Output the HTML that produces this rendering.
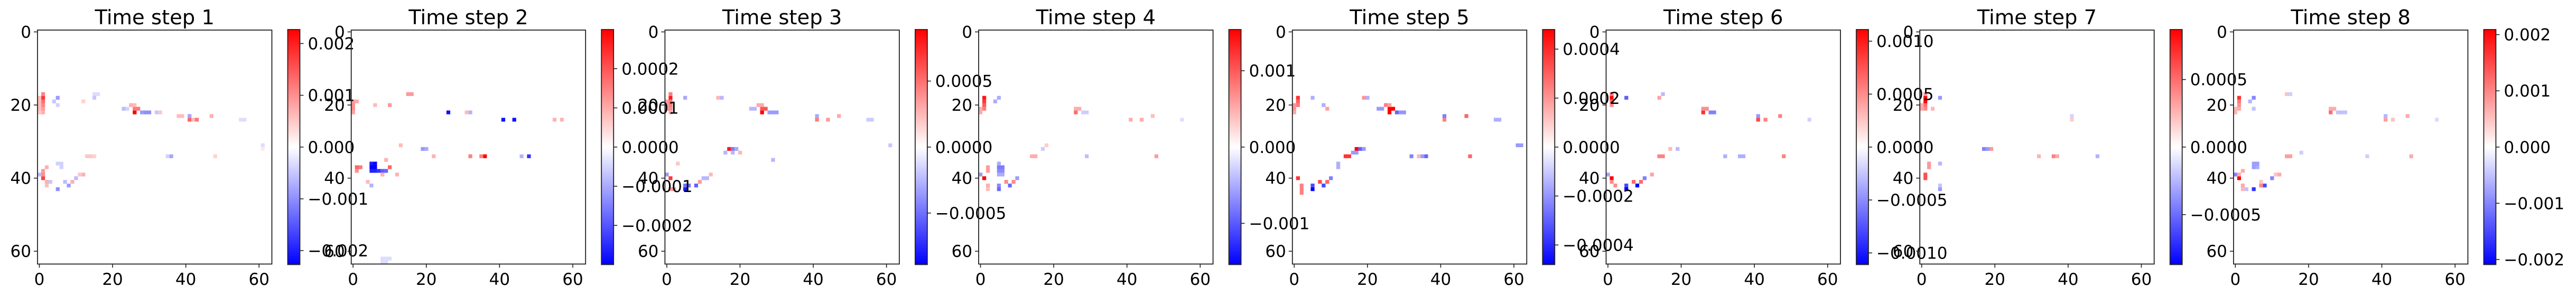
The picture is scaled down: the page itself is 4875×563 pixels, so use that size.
<!DOCTYPE html>
<html>
<head>
<meta charset="utf-8">
<style>
html,body{margin:0;padding:0;background:#fff;}
svg{display:block;}
text{font-family:"DejaVu Sans","Liberation Sans",sans-serif;fill:#000;}
</style>
</head>
<body>
<svg id="fig" width="4875" height="563" viewBox="0 0 4875 563" xmlns="http://www.w3.org/2000/svg">
<defs>
<linearGradient id="bwr" x1="0" y1="0" x2="0" y2="1">
<stop offset="0" stop-color="#ff0000"/>
<stop offset="0.5" stop-color="#ffffff"/>
<stop offset="1" stop-color="#0000ff"/>
</linearGradient>
</defs>
<g id="images"></g>
<g id="overlay"></g>
</svg>
<script>
// ---- data (values in units of 1e-4) ----
const titles = ["Time step 1","Time step 2","Time step 3","Time step 4","Time step 5","Time step 6","Time step 7","Time step 8"];
const vmaxes = [22.7, 3.0, 8.9, 15.4, 4.8, 11.1, 8.7, 20.9];
const cbTicks1 = [20, 10, 0, -10, -20];
const cbTicks2 = [2, 1, 0, -1, -2];
const cbTicks3 = [5, 0, -5];
const cbTicks4 = [10, 0, -10];
const cbTicks5 = [4, 2, 0, -2, -4];
const cbTicks6 = [10, 5, 0, -5, -10];
const cbTicks7 = [5, 0, -5];
const cbTicks8 = [20, 10, 0, -10, -20];
const cbLabels1 = ["0.002","0.001","0.000","\u22120.001","\u22120.002"];
const cbLabels2 = ["0.0002","0.0001","0.0000","\u22120.0001","\u22120.0002"];
const cbLabels3 = ["0.0005","0.0000","\u22120.0005"];
const cbLabels4 = ["0.001","0.000","\u22120.001"];
const cbLabels5 = ["0.0004","0.0002","0.0000","\u22120.0002","\u22120.0004"];
const cbLabels6 = ["0.0010","0.0005","0.0000","\u22120.0005","\u22120.0010"];
const cbLabels7 = ["0.0005","0.0000","\u22120.0005"];
const cbLabels8 = ["0.002","0.001","0.000","\u22120.001","\u22120.002"];
const axisTicks = [0, 20, 40, 60];
// cells: [row, col, value]
const cells1 = [[18,1,18],[17,1,11],[19,1,13],[20,1,11],[21,1,9],[22,1,7],[18,0,6],[19,0,6],[20,0,6],[21,0,6],[22,0,5],[18,5,-9],[19,4,-5],[20,5,-4],[22,26,22.7],[21,26,12],[21,27,12],[20,25,7],[20,26,6],[22,28,-9],[22,29,-10],[22,30,-10],[21,23,-6],[21,24,-4],[22,32,-5],[22,33,5],[24,41,14],[24,42,6],[24,43,12],[23,41,-8],[23,38,6],[23,39,6],[23,47,7],[24,55,-3],[24,56,-3],[17,15,-3],[17,16,-3],[18,15,-5],[19,12,4],[34,36,-8],[34,35,-4],[34,48,4],[34,13,5],[34,14,5],[34,15,4],[40,1,17],[39,1,10],[39,0,-6],[38,1,9],[37,2,7],[41,2,7],[42,2,6],[41,3,-5],[43,5,-10],[42,8,-9],[41,7,-6],[41,9,7],[40,10,-6],[39,12,7],[39,11,5],[36,5,-4],[36,6,-4],[37,6,-4],[31,61,-3],[32,61,2]];
const cells2 = [[36,5,-2.7],[36,6,-2.9],[37,5,-3.0],[37,6,-3.0],[38,5,-2.6],[38,6,-2.6],[38,7,-2.4],[38,8,-1.9],[38,9,-1.8],[37,10,1.8],[37,1,1.8],[37,2,1.6],[38,1,1.3],[39,8,0.9],[39,12,0.9],[35,9,0.9],[22,26,-2.8],[24,41,-2.8],[24,44,-2.8],[22,32,-0.9],[22,31,0.8],[17,15,1.2],[17,16,1.2],[20,10,1.2],[20,6,0.8],[24,55,0.9],[24,57,0.9],[19,0,1.2],[20,0,1.3],[21,0,1.3],[22,0,1.1],[19,1,1.0],[34,36,3.0],[34,35,1.5],[34,32,1.5],[34,48,-2.4],[34,46,-0.9],[32,19,-1.2],[32,20,-1.0],[34,22,0.9],[31,13,0.8],[41,4,0.8],[42,5,-0.9],[62,8,-0.4],[62,9,-0.4],[62,10,-0.4],[63,8,-0.4],[63,9,-0.4]];
const cells3 = [[18,1,8],[17,1,4.5],[19,1,5],[20,1,4.5],[21,1,4],[22,1,3],[19,0,3.5],[20,0,3.5],[21,0,3.5],[18,5,-3],[22,26,8.9],[21,26,6],[21,27,6],[20,25,3],[20,26,3],[22,28,-3.5],[22,29,-3.5],[22,30,-3.5],[21,23,-2.5],[21,24,-2.5],[24,41,4.5],[23,41,-3],[24,44,3.5],[23,47,3],[24,55,-1.8],[24,56,-1.8],[18,15,-2.5],[18,14,2.5],[32,17,8],[32,18,-4.5],[32,19,-3],[33,16,-2.5],[33,18,-2.5],[33,20,2.5],[40,1,7],[39,0,-3.5],[43,5,-8],[42,5,-5],[42,6,-5],[42,8,-5.5],[41,9,3.5],[43,1,3.5],[43,2,3.5],[40,10,-2.5],[40,11,-2.5],[39,12,2.5],[36,3,2],[35,29,-2.5],[31,61,-2]];
const cells4 = [[18,1,14],[19,1,12],[20,1,10],[21,1,8],[22,0,5],[21,0,5],[18,5,-5],[19,4,-5],[22,26,9],[21,26,5],[21,27,5],[22,28,-3],[22,29,-3],[24,41,5],[24,44,5],[23,47,4],[24,55,-2],[37,5,-8],[37,6,-8],[38,5,-7],[38,6,-7],[36,5,-5],[39,5,-5],[39,6,-5],[42,5,-7],[43,5,-9],[42,8,-9],[41,7,7],[41,9,7],[40,10,-6],[40,1,15.4],[39,0,-6],[38,2,6],[37,2,6],[42,2,5],[43,2,4],[34,14,5],[34,15,5],[34,48,6],[34,29,-4],[32,17,-3],[31,18,3]];
const cells5 = [[18,1,3.8],[19,1,3],[20,1,2.5],[20,0,2],[21,0,2],[22,0,1.6],[18,5,-1.5],[20,8,-1.5],[21,9,1.8],[22,26,4.8],[21,26,4.8],[21,27,4.8],[20,25,2.4],[20,26,1.8],[22,28,-2.9],[22,29,-2],[22,30,-2],[21,23,-1.9],[21,24,-1.9],[24,41,2.4],[23,41,-2.4],[23,47,2.9],[24,55,-1.5],[24,56,-1.5],[18,20,-1.5],[18,19,2],[32,17,4.8],[32,18,-2.9],[32,19,-1.9],[34,14,3.8],[34,15,3.8],[33,16,-1.9],[33,17,-1.9],[34,32,-2.4],[34,36,-2.9],[34,35,-1.9],[34,34,1.4],[34,48,2.9],[40,1,3.8],[43,5,-4.8],[42,5,-3.4],[42,8,-3.4],[41,7,3.4],[41,9,2.9],[40,10,-2.4],[42,2,2.4],[43,2,2.4],[44,2,2.4],[31,61,-1.9],[31,62,-1.9],[37,12,-1.5],[36,12,-1.5]];
const cells6 = [[18,1,11.1],[17,1,6],[19,1,7],[20,1,5],[18,5,-7],[22,26,9],[21,26,5],[21,27,5],[22,28,-5.5],[22,29,-5.5],[24,41,8],[23,41,-4.5],[24,43,5.5],[23,47,5.5],[24,55,-2],[18,14,4],[17,15,-3],[40,1,11.1],[39,0,-4],[41,1,5],[42,2,5],[42,5,-8],[43,5,-11.1],[42,8,-11.1],[41,7,6.5],[41,9,6.5],[40,10,-5.5],[39,12,4],[34,14,5.5],[34,15,5.5],[34,32,-3.5],[34,36,-3.5],[34,37,-3.5],[34,48,5.5],[32,17,3],[32,19,-3]];
const cells7 = [[18,1,8.7],[19,1,8.7],[17,1,3.5],[20,1,5],[21,1,4],[20,0,3],[21,0,3],[18,5,-3.5],[21,3,2.5],[32,17,-4.3],[32,18,-3.5],[32,19,3.5],[34,36,4.3],[34,37,3],[34,32,2.6],[34,48,-2.6],[39,1,6],[40,1,6],[36,2,3.5],[37,2,3.5],[43,5,-3.5],[42,5,-2],[36,5,-2.5],[24,41,1.8],[23,41,-1.5]];
const cells8 = [[18,1,17],[19,1,11],[20,1,9],[21,1,7],[22,0,6],[21,0,6],[18,5,-10],[19,4,-6],[21,5,-5],[22,26,12],[21,26,7],[21,27,7],[22,28,-5],[22,29,-5],[22,30,-5],[24,41,8],[23,41,-6],[24,43,5],[23,47,7],[24,55,-3],[17,14,5],[17,15,-4],[40,1,20.9],[39,0,-10],[39,1,7],[38,2,7],[43,5,-17],[42,8,-15],[42,7,10],[41,7,5],[42,2,7],[43,2,6],[43,3,-5],[40,10,-10],[39,12,7],[39,11,5],[36,5,-8],[37,5,-8],[36,6,-8],[37,6,-7],[34,14,8],[34,15,8],[34,48,7],[34,36,-4],[33,18,-4]];
const panelCells = [cells1, cells2, cells3, cells4, cells5, cells6, cells7, cells8];
const panelTicks = [cbTicks1, cbTicks2, cbTicks3, cbTicks4, cbTicks5, cbTicks6, cbTicks7, cbTicks8];
const panelLabels = [cbLabels1, cbLabels2, cbLabels3, cbLabels4, cbLabels5, cbLabels6, cbLabels7, cbLabels8];

// ---- layout ----
const NS = "http://www.w3.org/2000/svg";
const imgG = document.getElementById("images");
const ovG = document.getElementById("overlay");
const AX0 = 71, PITCH = 593.7, AXY = 57, AXS = 443.5, N = 64;
const CELL = AXS / N;
const CB_OFF = 473.5, CB_W = 23, CB_Y = 56, CB_H = 445.5;
const FRAME = "#222";

function mk(tag, attrs, parent) {
  const e = document.createElementNS(NS, tag);
  for (const k in attrs) e.setAttribute(k, attrs[k]);
  parent.appendChild(e);
  return e;
}
function bwr(v, vmax) {
  let t = Math.max(-1, Math.min(1, v / vmax));
  if (t >= 0) { const g = Math.round(255 * (1 - t)); return `rgb(255,${g},${g})`; }
  const g = Math.round(255 * (1 + t)); return `rgb(${g},${g},255)`;
}

for (let p = 0; p < 8; p++) {
  const ax = AX0 + PITCH * p;
  const xs = c => ax + c * CELL;           // left edge of column c
  const ys = r => AXY + r * CELL;         // top edge of row r
  const xc = c => ax + (c + 0.5) * CELL;  // center
  const yc = r => AXY + (r + 0.5) * CELL;
  const vmax = vmaxes[p];

  const bg = mk("rect", {x: ax, y: AXY, width: AXS, height: AXS, fill: "#fff"}, imgG);
  
  
  for (const [r, c, v] of panelCells[p]) {
    const cell = mk("rect", {x: xs(c).toFixed(2), y: ys(r).toFixed(2), width: (CELL + 0.3).toFixed(2), height: (CELL + 0.3).toFixed(2), fill: bwr(v, vmax)}, imgG);
    
    
  }
  const frame = mk("rect", {x: ax, y: AXY, width: AXS, height: AXS, fill: "none", stroke: FRAME, "stroke-width": 1.8}, ovG);
  
  

  const title = mk("text", {x: ax + AXS / 2, y: 46, "font-size": 38.5, "text-anchor": "middle"}, ovG);
  title.textContent = titles[p];
  
  

  for (const t of axisTicks) {
    mk("line", {x1: ax, x2: ax - 7, y1: yc(t), y2: yc(t), stroke: FRAME, "stroke-width": 1.6}, ovG);
    const yl = mk("text", {x: ax - 12, y: yc(t) + 11, "font-size": 31, "text-anchor": "end"}, ovG);
    yl.textContent = String(t);
    
    
    mk("line", {x1: xc(t), x2: xc(t), y1: AXY + AXS, y2: AXY + AXS + 7, stroke: FRAME, "stroke-width": 1.6}, ovG);
    const xl = mk("text", {x: xc(t), y: 540, "font-size": 31, "text-anchor": "middle"}, ovG);
    xl.textContent = String(t);
    
    
  }

  const cbx = ax + CB_OFF;
  const cb = mk("rect", {x: cbx, y: CB_Y, width: CB_W, height: CB_H, fill: "url(#bwr)", stroke: FRAME, "stroke-width": 1.8}, ovG);
  
  
  const cy = v => CB_Y + (vmax - v) / (2 * vmax) * CB_H;
  panelTicks[p].forEach((v, i) => {
    mk("line", {x1: cbx + CB_W, x2: cbx + CB_W + 7, y1: cy(v), y2: cy(v), stroke: FRAME, "stroke-width": 1.6}, ovG);
    const lab = mk("text", {x: cbx + CB_W + 15, y: cy(v) + 11, "font-size": 31}, ovG);
    lab.textContent = panelLabels[p][i];
    
    
  });
}
</script>
</body>
</html>
